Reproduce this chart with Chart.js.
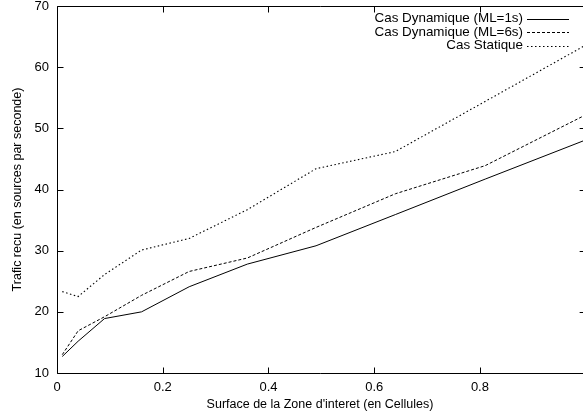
<!DOCTYPE html>
<html>
<head>
<meta charset="utf-8">
<script src="https://cdn.jsdelivr.net/npm/chart.js@4/dist/chart.umd.min.js"></script>
<style>
	body { margin: 0; background: #fff; }
	canvas { display: block; }
</style>
</head>
<body>
<canvas id="trafic-chart" width="583" height="419"></canvas>
<script>
// surface of the zone of interest (cells) -> traffic received (sources / s)
var surfaces = [0.01, 0.04, 0.09, 0.16, 0.25, 0.36, 0.49, 0.64, 0.81, 1.0];
var dynamique1s = [12.7, 15.2, 18.9, 20.0, 24.1, 27.8, 30.8, 35.9, 41.7, 48.1];
var dynamique6s = [13.0, 16.9, 19.2, 22.7, 26.6, 28.8, 33.8, 39.3, 43.9, 52.2];
var statique = [23.3, 22.5, 26.1, 30.1, 32.0, 36.7, 43.4, 46.2, 54.4, 63.6];

var seriesLabels = ['Cas Dynamique (ML=1s)', 'Cas Dynamique (ML=6s)', 'Cas Statique'];
var xTicks = [0, 0.2, 0.4, 0.6, 0.8];
var yTicks = [10, 20, 30, 40, 50, 60, 70];

var FONT = 'Liberation Sans, Arial, Helvetica, sans-serif';

function toPoints(values){
	return values.map(function(v, i){ return {x: surfaces[i], y: v}; });
}

// gnuplot style frame with inward ticks on all sides
var framePlugin = {
	id: 'frame',
	afterDraw: function(chart){
		var ctx = chart.ctx;
		var a = chart.chartArea;
		var xs = chart.scales.x, ys = chart.scales.y;
		var right = xs.getPixelForValue(1.0);
		var L = Math.round(a.left) + 0.5, T = Math.round(a.top) + 0.5, B = Math.round(a.bottom) + 0.5;
		ctx.save();
		ctx.strokeStyle = '#000';
		ctx.lineWidth = 1;
		ctx.beginPath();
		ctx.moveTo(L, T); ctx.lineTo(L, B);
		ctx.moveTo(L, B); ctx.lineTo(chart.width, B);
		ctx.moveTo(L, T); ctx.lineTo(chart.width, T);
		xTicks.forEach(function(v){
			var px = Math.round(xs.getPixelForValue(v)) + 0.5;
			ctx.moveTo(px, B); ctx.lineTo(px, B - 6);
			ctx.moveTo(px, T); ctx.lineTo(px, T + 6);
		});
		yTicks.forEach(function(v){
			var py = Math.round(ys.getPixelForValue(v)) + 0.5;
			ctx.moveTo(L, py); ctx.lineTo(L + 6, py);
			ctx.moveTo(right, py); ctx.lineTo(right - 6, py);
		});
		ctx.stroke();

		// legend, top right, text right-aligned then a line sample
		ctx.font = '13.4px ' + FONT;
		ctx.textAlign = 'right';
		ctx.textBaseline = 'middle';
		ctx.fillStyle = '#000';
		chart.data.datasets.forEach(function(ds, i){
			var y = 18.5 + i * 13.5;
			ctx.fillText(ds.label, 523, y);
			ctx.beginPath();
			ctx.setLineDash(ds.borderDash || []);
			ctx.moveTo(527, Math.round(y) + 0.5); ctx.lineTo(569, Math.round(y) + 0.5);
			ctx.stroke();
		});
		ctx.restore();
	}
};

var ctx = document.getElementById('trafic-chart');
var traficChart = new Chart(ctx, {
	type: 'line',
	data: {
		datasets: [{
			label: seriesLabels[0],
			data: toPoints(dynamique1s),
			borderColor: '#000',
			borderWidth: 1
		}, {
			label: seriesLabels[1],
			data: toPoints(dynamique6s),
			borderColor: '#000',
			borderWidth: 1,
			borderDash: [3, 2]
		}, {
			label: seriesLabels[2],
			data: toPoints(statique),
			borderColor: '#000',
			borderWidth: 1.1,
			borderDash: [1.5, 2.5]
		}]
	},
	options: {
		responsive: false,
		animation: false,
		layout: { padding: { top: 6, right: 0, left: 0, bottom: 0 } },
		elements: { point: { radius: 0 }, line: { tension: 0 } },
		plugins: {
			legend: { display: false },
			tooltip: { enabled: false }
		},
		scales: {
			x: {
				type: 'linear',
				min: 0,
				max: 0.995,
				grid: { display: false, drawTicks: false },
				border: { display: false },
				afterBuildTicks: function(scale){ scale.ticks = xTicks.map(function(v){ return {value: v}; }); },
				afterFit: function(scale){
					scale.height = 46;
					scale.paddingLeft = 0;
					scale.paddingRight = 0;
				},
				ticks: {
					padding: 7,
					color: '#000',
					font: { family: FONT, size: 13 },
					maxRotation: 0,
					callback: function(v){ return String(v); }
				},
				title: {
					display: true,
					text: "Surface de la Zone d'interet (en Cellules)",
					color: '#000',
					font: { family: FONT, size: 12.5 },
					padding: { top: 0, bottom: 7 }
				}
			},
			y: {
				min: 10,
				max: 70,
				grid: { display: false, drawTicks: false },
				border: { display: false },
				afterBuildTicks: function(scale){ scale.ticks = yTicks.map(function(v){ return {value: v}; }); },
				afterFit: function(scale){
					scale.width = 57;
					scale.paddingTop = 0;
					scale.paddingBottom = 0;
				},
				ticks: {
					padding: 8,
					color: '#000',
					font: { family: FONT, size: 13 }
				},
				title: {
					display: true,
					text: 'Trafic recu (en sources par seconde)',
					color: '#000',
					font: { family: FONT, size: 12.5 },
					padding: { top: 10, bottom: 0 }
				}
			}
		}
	},
	plugins: [framePlugin]
});
</script>
</body>
</html>
